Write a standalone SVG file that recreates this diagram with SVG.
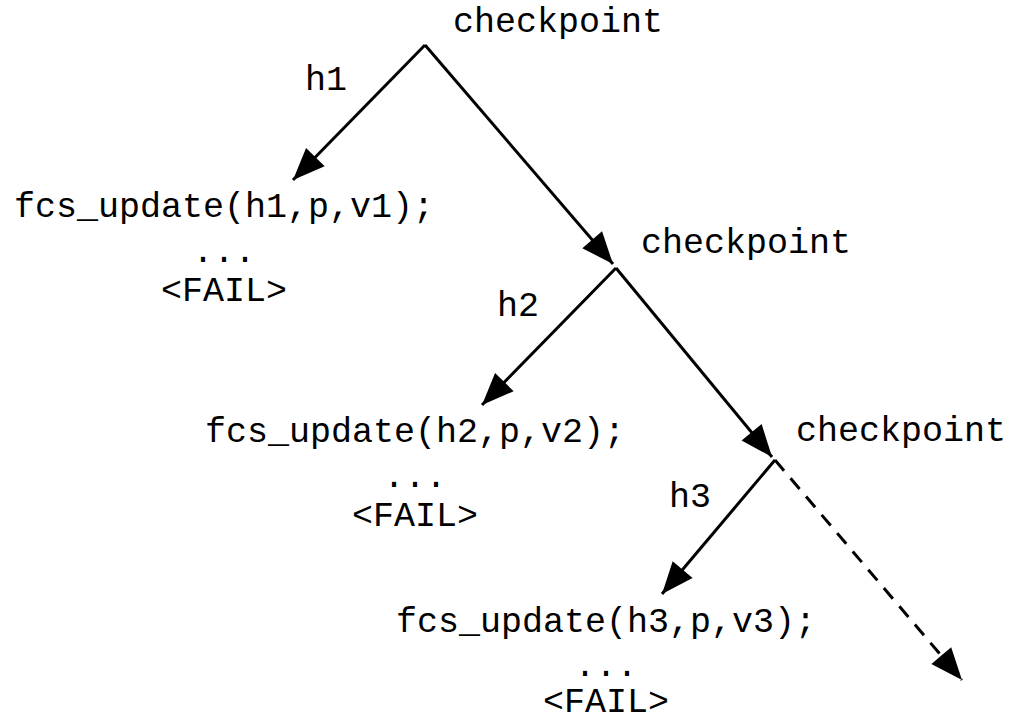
<svg xmlns="http://www.w3.org/2000/svg" width="1012" height="719" viewBox="0 0 1012 719">
<style>
text{font-family:"Liberation Mono","Courier New",monospace;font-size:35px;fill:#000}
.c{text-anchor:middle}
.e{stroke:#000;stroke-width:3;fill:none}
.d{stroke-dasharray:14,10}
</style>
<defs>
<marker id="a" markerUnits="userSpaceOnUse" markerWidth="34" markerHeight="28" refX="32" refY="13" orient="auto" overflow="visible">
<path d="M0,0 L32,13 L0,26 z" fill="#000"/>
</marker>
</defs>
<rect width="1012" height="719" fill="#fff"/>
<g id="connectors">
<line class="e" x1="425" y1="45" x2="293" y2="180" marker-end="url(#a)"/>
<line class="e" x1="425" y1="45" x2="613" y2="264" marker-end="url(#a)"/>
<line class="e" x1="616" y1="268" x2="482" y2="405" marker-end="url(#a)"/>
<line class="e" x1="616" y1="268" x2="772" y2="457" marker-end="url(#a)"/>
<line class="e" x1="775" y1="460" x2="662" y2="594" marker-end="url(#a)"/>
<line class="e d" x1="775" y1="460" x2="962" y2="680" marker-end="url(#a)"/>
</g>
<g id="cp1"><text x="453" y="32">checkpoint</text></g>
<g id="cp2"><text x="641" y="253">checkpoint</text></g>
<g id="cp3"><text x="796" y="441">checkpoint</text></g>
<g id="h1"><text x="305" y="90">h1</text></g>
<g id="h2"><text x="497" y="316">h2</text></g>
<g id="h3"><text x="669" y="507">h3</text></g>
<g id="n1">
<text class="c" x="224" y="217">fcs_update(h1,p,v1);</text>
<text class="c" x="224" y="262">...</text>
<text class="c" x="224" y="301">&lt;FAIL&gt;</text>
</g>
<g id="n2">
<text class="c" x="415" y="442">fcs_update(h2,p,v2);</text>
<text class="c" x="415" y="487">...</text>
<text class="c" x="415" y="526">&lt;FAIL&gt;</text>
</g>
<g id="n3">
<text class="c" x="606" y="632">fcs_update(h3,p,v3);</text>
<text class="c" x="606" y="676">...</text>
<text class="c" x="606" y="712">&lt;FAIL&gt;</text>
</g>
</svg>
